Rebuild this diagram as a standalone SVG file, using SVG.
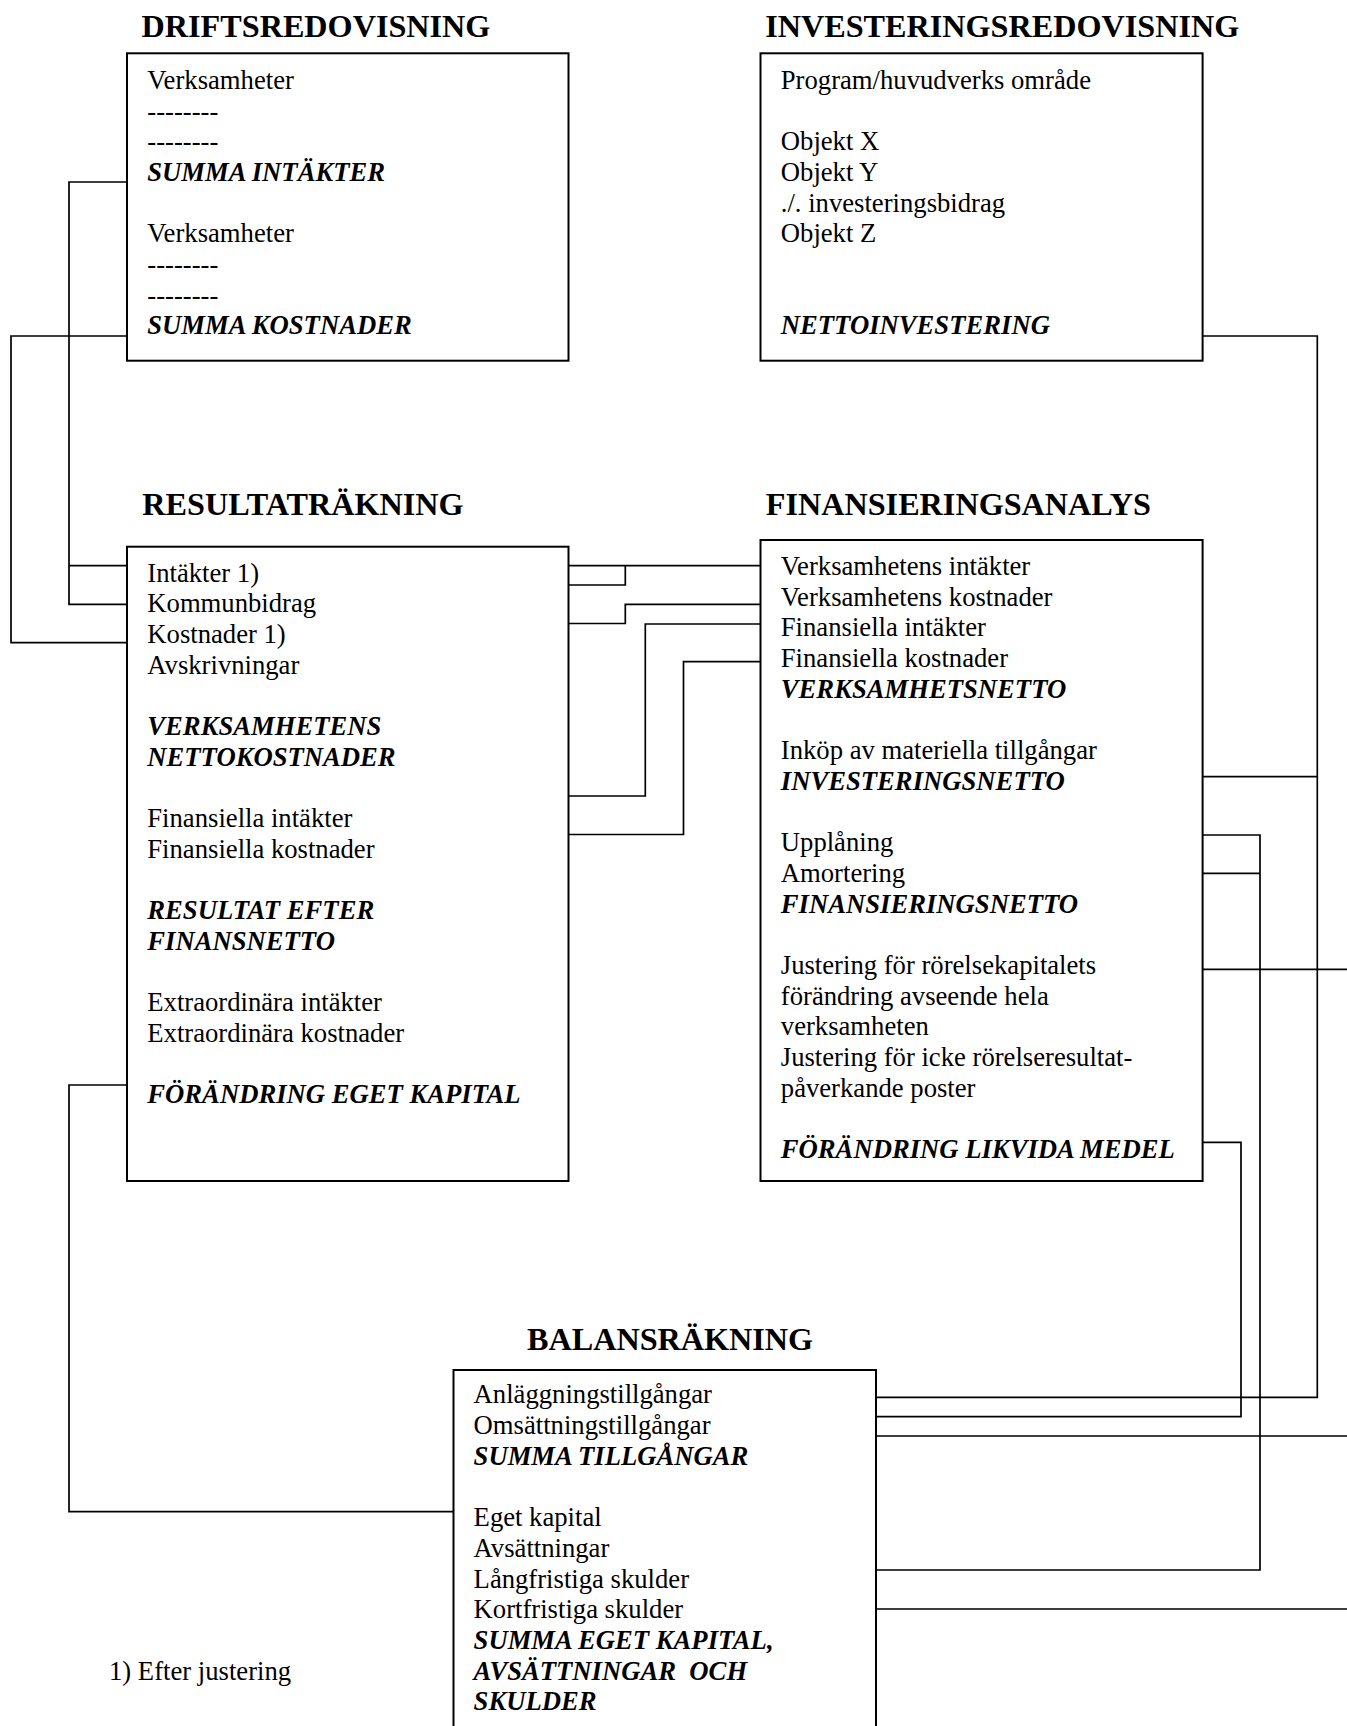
<svg xmlns="http://www.w3.org/2000/svg" width="1347" height="1726" viewBox="0 0 1347 1726">
<style>
text{font-family:"Liberation Serif","Times New Roman",serif;fill:#000}
.t{font-size:32.2px;font-weight:bold}
.b{font-size:26.67px}
.bi{font-size:26.67px;font-weight:bold;font-style:italic}
.box{fill:none;stroke:#000;stroke-width:2}
.ln{fill:none;stroke:#000;stroke-width:1.7}
</style>
<rect width="1347" height="1726" fill="#fff"/>
<g id="connectors">
<path class="ln" d="M127,182 H69 V604.3 H127 M69,565.7 H127"/>
<path class="ln" d="M127,336 H11 V642.7 H127"/>
<path class="ln" d="M127,1085 H69 V1511.7 H453.5"/>
<path class="ln" d="M568.5,565.7 H760.5"/>
<path class="ln" d="M568.5,585 H625.3 V565.7"/>
<path class="ln" d="M760.5,604.3 H625.3 V623.5 H568.5"/>
<path class="ln" d="M760.5,624 H645.3 V796 H568.5"/>
<path class="ln" d="M760.5,661.7 H683.5 V834.5 H568.5"/>
<path class="ln" d="M1202.6,336 H1317.3 V1397.3 H876"/>
<path class="ln" d="M1202.6,776.7 H1317.3"/>
<path class="ln" d="M1202.6,835 H1260 V1570 H876 M1202.6,873.3 H1260"/>
<path class="ln" d="M1202.6,969.3 H1347"/>
<path class="ln" d="M1202.6,1142.3 H1241 V1416.7 H876"/>
<path class="ln" d="M876,1436 H1347 M876,1609 H1347"/>
</g>
<g id="driftsredovisning">
<text class="t" x="141.6" y="37.3">DRIFTSREDOVISNING</text>
<rect class="box" x="127" y="53.3" width="441.5" height="307.4"/>
<text class="b" x="147.3" y="88.8">Verksamheter</text>
<text class="b" x="147.3" y="119.5">--------</text>
<text class="b" x="147.3" y="150.2">--------</text>
<text class="bi" x="147.3" y="180.9">SUMMA INTÄKTER</text>
<text class="b" x="147.3" y="242.2">Verksamheter</text>
<text class="b" x="147.3" y="272.9">--------</text>
<text class="b" x="147.3" y="303.6">--------</text>
<text class="bi" x="147.3" y="334.3">SUMMA KOSTNADER</text>
</g>
<g id="investeringsredovisning">
<text class="t" x="765.2" y="37.3">INVESTERINGSREDOVISNING</text>
<rect class="box" x="760.5" y="53.3" width="442.1" height="307.4"/>
<text class="b" x="780.8" y="88.8">Program/huvudverks område</text>
<text class="b" x="780.8" y="150.2">Objekt X</text>
<text class="b" x="780.8" y="180.9">Objekt Y</text>
<text class="b" x="780.8" y="211.6">./. investeringsbidrag</text>
<text class="b" x="780.8" y="242.2">Objekt Z</text>
<text class="bi" x="780.8" y="334.3">NETTOINVESTERING</text>
</g>
<g id="resultatrakning">
<text class="t" x="142.3" y="515">RESULTATRÄKNING</text>
<rect class="box" x="127" y="546.7" width="441.5" height="634.3"/>
<text class="b" x="147.3" y="581.5">Intäkter 1)</text>
<text class="b" x="147.3" y="612.2">Kommunbidrag</text>
<text class="b" x="147.3" y="642.9">Kostnader 1)</text>
<text class="b" x="147.3" y="673.6">Avskrivningar</text>
<text class="bi" x="147.3" y="735">VERKSAMHETENS</text>
<text class="bi" x="147.3" y="765.7">NETTOKOSTNADER</text>
<text class="b" x="147.3" y="827">Finansiella intäkter</text>
<text class="b" x="147.3" y="857.7">Finansiella kostnader</text>
<text class="bi" x="147.3" y="919.1">RESULTAT EFTER</text>
<text class="bi" x="147.3" y="949.8">FINANSNETTO</text>
<text class="b" x="147.3" y="1011.1">Extraordinära intäkter</text>
<text class="b" x="147.3" y="1041.8">Extraordinära kostnader</text>
<text class="bi" x="147.3" y="1102.5">FÖRÄNDRING EGET KAPITAL</text>
</g>
<g id="finansieringsanalys">
<text class="t" x="765.8" y="515">FINANSIERINGSANALYS</text>
<rect class="box" x="760.5" y="540" width="442.1" height="641"/>
<text class="b" x="780.8" y="575">Verksamhetens intäkter</text>
<text class="b" x="780.8" y="605.7">Verksamhetens kostnader</text>
<text class="b" x="780.8" y="636.4">Finansiella intäkter</text>
<text class="b" x="780.8" y="667.1">Finansiella kostnader</text>
<text class="bi" x="780.8" y="697.8">VERKSAMHETSNETTO</text>
<text class="b" x="780.8" y="759.1">Inköp av materiella tillgångar</text>
<text class="bi" x="780.8" y="789.8">INVESTERINGSNETTO</text>
<text class="b" x="780.8" y="851.2">Upplåning</text>
<text class="b" x="780.8" y="881.9">Amortering</text>
<text class="bi" x="780.8" y="912.6">FINANSIERINGSNETTO</text>
<text class="b" x="780.8" y="973.9">Justering för rörelsekapitalets</text>
<text class="b" x="780.8" y="1004.6">förändring avseende hela</text>
<text class="b" x="780.8" y="1035.3">verksamheten</text>
<text class="b" x="780.8" y="1066">Justering för icke rörelseresultat-</text>
<text class="b" x="780.8" y="1096.7">påverkande poster</text>
<text class="bi" x="780.8" y="1157.5">FÖRÄNDRING LIKVIDA MEDEL</text>
</g>
<g id="balansrakning">
<text class="t" x="527" y="1350">BALANSRÄKNING</text>
<rect class="box" x="453.5" y="1370" width="422.5" height="370"/>
<text class="b" x="473.6" y="1403.3">Anläggningstillgångar</text>
<text class="b" x="473.6" y="1434">Omsättningstillgångar</text>
<text class="bi" x="473.6" y="1464.7">SUMMA TILLGÅNGAR</text>
<text class="b" x="473.6" y="1526.1">Eget kapital</text>
<text class="b" x="473.6" y="1556.8">Avsättningar</text>
<text class="b" x="473.6" y="1587.5">Långfristiga skulder</text>
<text class="b" x="473.6" y="1618.2">Kortfristiga skulder</text>
<text class="bi" x="473.6" y="1648.9">SUMMA EGET KAPITAL,</text>
<text class="bi" x="473.6" y="1679.6" xml:space="preserve">AVSÄTTNINGAR  OCH</text>
<text class="bi" x="473.6" y="1710.3">SKULDER</text>
</g>
<g id="footnote">
<text class="b" x="109" y="1680">1) Efter justering</text>
</g>
</svg>
